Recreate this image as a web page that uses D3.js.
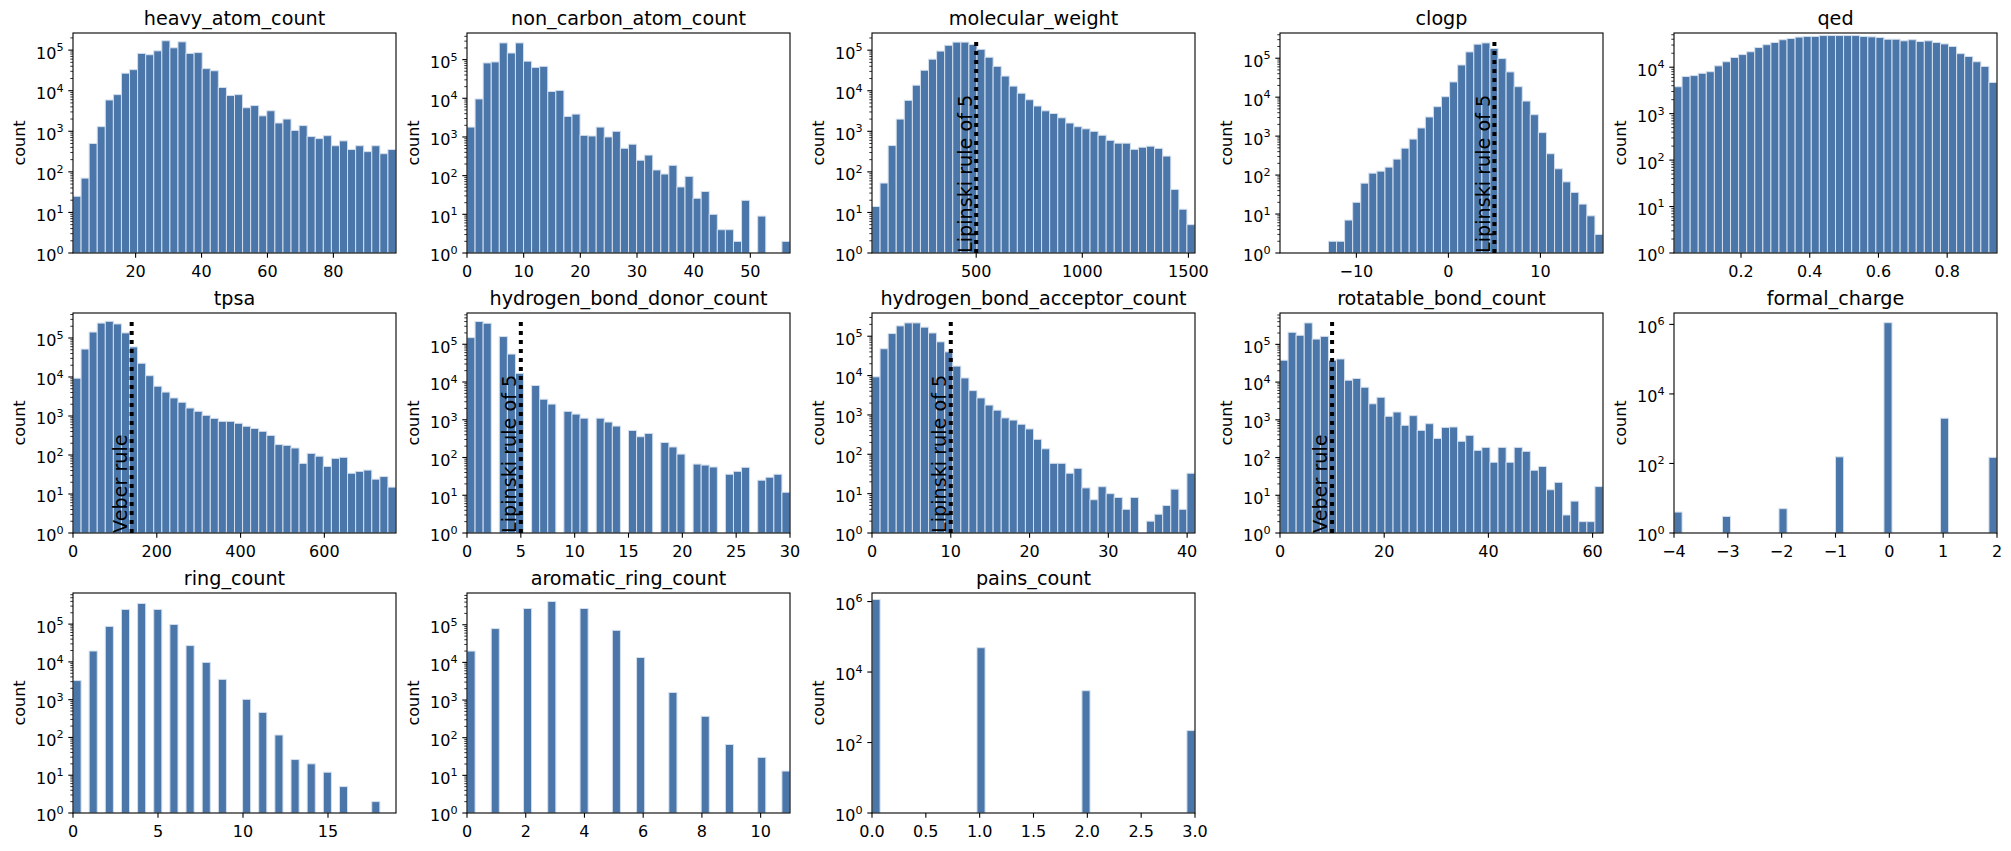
<script src="https://d3js.org/d3.v7.min.js"></script>
<style>
body { margin: 0; background: #fff; }
svg { display: block; font-family: 'DejaVu Sans', sans-serif; }
</style>
<svg id="chart" width="2011" height="851"></svg>
<script>
// bin counts (40 bins per panel, log y)
const heavyAtomRange = [1, 99];
const heavyAtomCounts = [25, 70, 500, 1300, 5900, 8000, 27000, 33000, 83000, 77000, 96000, 170000, 114000, 160000, 83000, 87000, 35000, 31000, 12000, 7600, 8000, 3800, 4300, 2400, 3200, 1600, 2000, 1050, 1380, 740, 660, 780, 440, 580, 355, 440, 315, 440, 280, 355];
const heavyAtomTicks = [20, 40, 60, 80];

const nonCarbonRange = [0, 57];
const nonCarbonCounts = [1800, 9600, 82000, 87000, 270000, 148000, 270000, 91000, 63000, 67000, 15000, 16000, 3400, 3900, 1100, 1060, 1800, 1000, 1400, 510, 650, 250, 340, 140, 110, 185, 51, 96, 26, 39, 10, 4, 4, 2, 23, 0, 9, 0, 0, 2];
const nonCarbonTicks = [0, 10, 20, 30, 40, 50];

const molWeightRange = [9, 1531];
const molWeightCounts = [14, 53, 445, 2000, 5800, 13700, 32000, 60000, 95000, 132000, 158000, 158000, 138000, 105000, 67000, 40000, 23000, 13000, 8700, 6000, 4200, 3200, 2750, 2150, 1600, 1300, 1150, 1000, 800, 600, 510, 510, 360, 405, 430, 380, 245, 37, 12, 5];
const molWeightTicks = [500, 1000, 1500];

const clogpRange = [-18.3, 16.8];
const clogpCounts = [0, 0, 0, 0, 0, 0, 2, 2, 7, 20, 62, 112, 126, 160, 257, 490, 840, 1620, 3100, 5700, 10300, 24600, 67000, 145000, 229000, 247000, 178000, 98000, 44500, 18600, 7950, 3550, 1230, 353, 145, 67, 36, 18, 9, 3];
const clogpTicks = [-10, 0, 10];

const qedRange = [0.005, 0.945];
const qedCounts = [3800, 6300, 6600, 7400, 8000, 10700, 13100, 16200, 18700, 21500, 26500, 30500, 34000, 39000, 41500, 44500, 46000, 46000, 48000, 48000, 48000, 48000, 48000, 46000, 45000, 43500, 40000, 40000, 37000, 39000, 35700, 37000, 34000, 31700, 28000, 19600, 17000, 13100, 10400, 4700];
const qedTicks = [0.2, 0.4, 0.6, 0.8];

const tpsaRange = [0, 771];
const tpsaCounts = [9300, 52000, 142000, 241000, 268000, 229000, 135000, 59000, 22500, 10800, 5800, 4100, 2900, 2250, 1600, 1320, 1040, 870, 730, 730, 650, 545, 480, 405, 318, 185, 177, 151, 61, 110, 93, 51, 82, 87, 34, 38, 41, 24, 28, 15];
const tpsaTicks = [0, 200, 400, 600];

// integer-valued features: counts per value, binned below
const hbdRange = [0, 30];
const hbdValues = d3.range(0, 31);
const hbdCounts = [150000, 400000, 360000, 160000, 55000, 17000, 8100, 3500, 2600, 1670, 1410, 1100, 1100, 870, 680, 520, 355, 435, 250, 190, 123, 67, 63, 56, 36, 43, 55, 25, 30, 36, 12];
const hbdTicks = [0, 5, 10, 15, 20, 25, 30];

const hbaRange = [0, 41];
const hbaCounts = [9300, 48000, 117000, 183000, 218000, 218000, 170000, 121000, 72000, 40000, 17400, 8700, 4150, 2700, 1780, 1320, 840, 740, 580, 440, 240, 138, 59, 59, 33, 44, 14, 7, 15, 10, 8, 4, 8, 0, 2, 3, 5, 13, 4, 33];
const hbaTicks = [0, 10, 20, 30, 40];

const rotRange = [0, 62];
const rotCounts = [38000, 209000, 174000, 370000, 138000, 163000, 38000, 41000, 11200, 12500, 7300, 2660, 3960, 1240, 1610, 715, 1290, 525, 790, 322, 630, 645, 270, 388, 155, 186, 75, 186, 75, 186, 146, 46, 58, 14, 22, 3, 7, 2, 2, 17];
const rotTicks = [0, 20, 40, 60];

const chargeRange = [-4, 2];
const chargeValues = [-4, -3, -2, -1, 0, 1, 2];
const chargeCounts = [4, 3, 5, 155, 1120000, 2000, 150];
const chargeTicks = [-4, -3, -2, -1, 0, 1, 2];

const ringRange = [0, 19];
const ringValues = d3.range(0, 20);
const ringCounts = [3200, 19400, 87000, 245000, 352000, 245000, 98000, 27000, 9700, 3450, 1020, 460, 116, 26, 20, 12, 5, 1, 2, 1];
const ringTicks = [0, 5, 10, 15];

const aromRange = [0, 11];
const aromValues = d3.range(0, 12);
const aromCounts = [20000, 79000, 270000, 415000, 270000, 71000, 13500, 1590, 370, 66, 30, 13];
const aromTicks = [0, 2, 4, 6, 8, 10];

const painsRange = [0, 3];
const painsValues = [0, 1, 2, 3];
const painsCounts = [1140000, 49000, 2950, 218];
const painsTicks = [0, 0.5, 1, 1.5, 2, 2.5, 3];

const NBINS = 40;

function binInts(values, counts, range) {
    const w = (range[1] - range[0]) / NBINS;
    const out = new Array(NBINS).fill(0);
    values.forEach((v, i) => {
        let k = Math.floor((v - range[0]) / w + 1e-9);
        if (k >= NBINS) k = NBINS - 1;
        out[k] += counts[i];
    });
    return out;
}

const panels = [
    {name: "heavy_atom_count", range: heavyAtomRange, counts: heavyAtomCounts, ticks: heavyAtomTicks},
    {name: "non_carbon_atom_count", range: nonCarbonRange, counts: nonCarbonCounts, ticks: nonCarbonTicks},
    {name: "molecular_weight", range: molWeightRange, counts: molWeightCounts, ticks: molWeightTicks, rule: [500, "Lipinski rule of 5"]},
    {name: "clogp", range: clogpRange, counts: clogpCounts, ticks: clogpTicks, rule: [5, "Lipinski rule of 5"]},
    {name: "qed", range: qedRange, counts: qedCounts, ticks: qedTicks},
    {name: "tpsa", range: tpsaRange, counts: tpsaCounts, ticks: tpsaTicks, rule: [140, "Veber rule"]},
    {name: "hydrogen_bond_donor_count", range: hbdRange, counts: binInts(hbdValues, hbdCounts, hbdRange), ticks: hbdTicks, rule: [5, "Lipinski rule of 5"]},
    {name: "hydrogen_bond_acceptor_count", range: hbaRange, counts: hbaCounts, ticks: hbaTicks, rule: [10, "Lipinski rule of 5"]},
    {name: "rotatable_bond_count", range: rotRange, counts: rotCounts, ticks: rotTicks, rule: [10, "Veber rule"]},
    {name: "formal_charge", range: chargeRange, counts: binInts(chargeValues, chargeCounts, chargeRange), ticks: chargeTicks},
    {name: "ring_count", range: ringRange, counts: binInts(ringValues, ringCounts, ringRange), ticks: ringTicks},
    {name: "aromatic_ring_count", range: aromRange, counts: binInts(aromValues, aromCounts, aromRange), ticks: aromTicks},
    {name: "pains_count", range: painsRange, counts: binInts(painsValues, painsCounts, painsRange), ticks: painsTicks, fmt: d3.format(".1f")}
];

// layout
const colLeft = [73, 467, 872, 1280, 1674];
const axW = 323;
const rowTop = [33, 313, 593];
const axH = 220;
const barFill = "#4a76a9";
const barEdge = "#d4dfed";
const minus = s => s.replace(/-/g, "\u2212");

const svg = d3.select("#chart");
svg.append("rect").attr("width", 2011).attr("height", 851).attr("fill", "#fff");
const defs = svg.append("defs");

panels.forEach((p, idx) => {
    const left = colLeft[idx % 5], top = rowTop[Math.floor(idx / 5)];
    const g = svg.append("g").attr("transform", `translate(${left},${top})`);

    const pos = p.counts.filter(c => c > 0);
    const lmax = Math.log10(d3.max(pos)), lmin = Math.log10(d3.min(pos));
    const ltop = lmax + 0.05 * (lmax - lmin);

    const x = d3.scaleLinear().domain(p.range).range([0, axW]);
    const y = d3.scaleLog().domain([1, Math.pow(10, ltop)]).range([axH, 0]);

    defs.append("clipPath").attr("id", "clip" + idx)
        .append("rect").attr("width", axW).attr("height", axH);

    const w = (p.range[1] - p.range[0]) / NBINS;
    const bins = p.counts.map((c, i) => ({x0: p.range[0] + i * w, x1: p.range[0] + (i + 1) * w, c}));

    g.append("g").attr("clip-path", `url(#clip${idx})`)
        .selectAll("rect").data(bins.filter(b => b.c > 1)).join("rect")
        .attr("x", b => x(b.x0))
        .attr("width", b => x(b.x1) - x(b.x0))
        .attr("y", b => y(b.c))
        .attr("height", b => axH - y(b.c))
        .attr("fill", barFill)
        .attr("stroke", barEdge)
        .attr("stroke-width", 1);

    if (p.rule) {
        const rx = x(p.rule[0]);
        g.append("line")
            .attr("x1", rx).attr("x2", rx)
            .attr("y1", axH).attr("y2", axH * 0.025)
            .attr("stroke", "#000").attr("stroke-width", 4)
            .attr("stroke-dasharray", "4 5");
        g.append("text")
            .attr("transform", `translate(${rx - 4.6},${axH}) rotate(-90)`)
            .attr("font-size", "19.2px")
            .attr("fill", "#000")
            .text(p.rule[1]);
    }

    // spines
    g.append("rect").attr("width", axW).attr("height", axH)
        .attr("fill", "none").attr("stroke", "#000").attr("stroke-width", 1.1);

    // x axis
    const fmt = p.fmt || (d => minus(String(d)));
    const xa = g.append("g").attr("transform", `translate(0,${axH})`);
    p.ticks.forEach(t => {
        const tx = x(t);
        xa.append("line").attr("x1", tx).attr("x2", tx).attr("y1", 0).attr("y2", 4.7)
            .attr("stroke", "#000").attr("stroke-width", 1.1);
        xa.append("text").attr("x", tx).attr("y", 24).attr("text-anchor", "middle")
            .attr("font-size", "16px").attr("fill", "#000").text(fmt(t));
    });

    // y axis, log decades
    const nDec = Math.floor(ltop);
    const stride = nDec + 1 > 6 ? 2 : 1;
    const ya = g.append("g");
    for (let k = 0; k <= nDec; k++) {
        if (k % stride === 0) {
            const ty = y(Math.pow(10, k));
            ya.append("line").attr("x1", -4.7).attr("x2", 0).attr("y1", ty).attr("y2", ty)
                .attr("stroke", "#000").attr("stroke-width", 1.1);
            const t = ya.append("text").attr("x", -9.5).attr("y", ty + 8.4)
                .attr("text-anchor", "end").attr("font-size", "16px").attr("fill", "#000");
            t.append("tspan").text("10");
            t.append("tspan").attr("dy", -7.5).attr("font-size", "11.2px").text(k);
        }
        if (stride === 1) {
            for (let m = 2; m <= 9; m++) {
                const v = m * Math.pow(10, k);
                if (Math.log10(v) > ltop) break;
                const ty = y(v);
                ya.append("line").attr("x1", -2.7).attr("x2", 0).attr("y1", ty).attr("y2", ty)
                    .attr("stroke", "#000").attr("stroke-width", 0.8);
            }
        }
    }

    g.append("text")
        .attr("transform", `translate(-48.5,${axH / 2}) rotate(-90)`)
        .attr("text-anchor", "middle").attr("font-size", "16px").attr("fill", "#000")
        .text("count");

    g.append("text").attr("x", axW / 2).attr("y", -8)
        .attr("text-anchor", "middle").attr("font-size", "19.2px").attr("fill", "#000")
        .text(p.name);
});
</script>
